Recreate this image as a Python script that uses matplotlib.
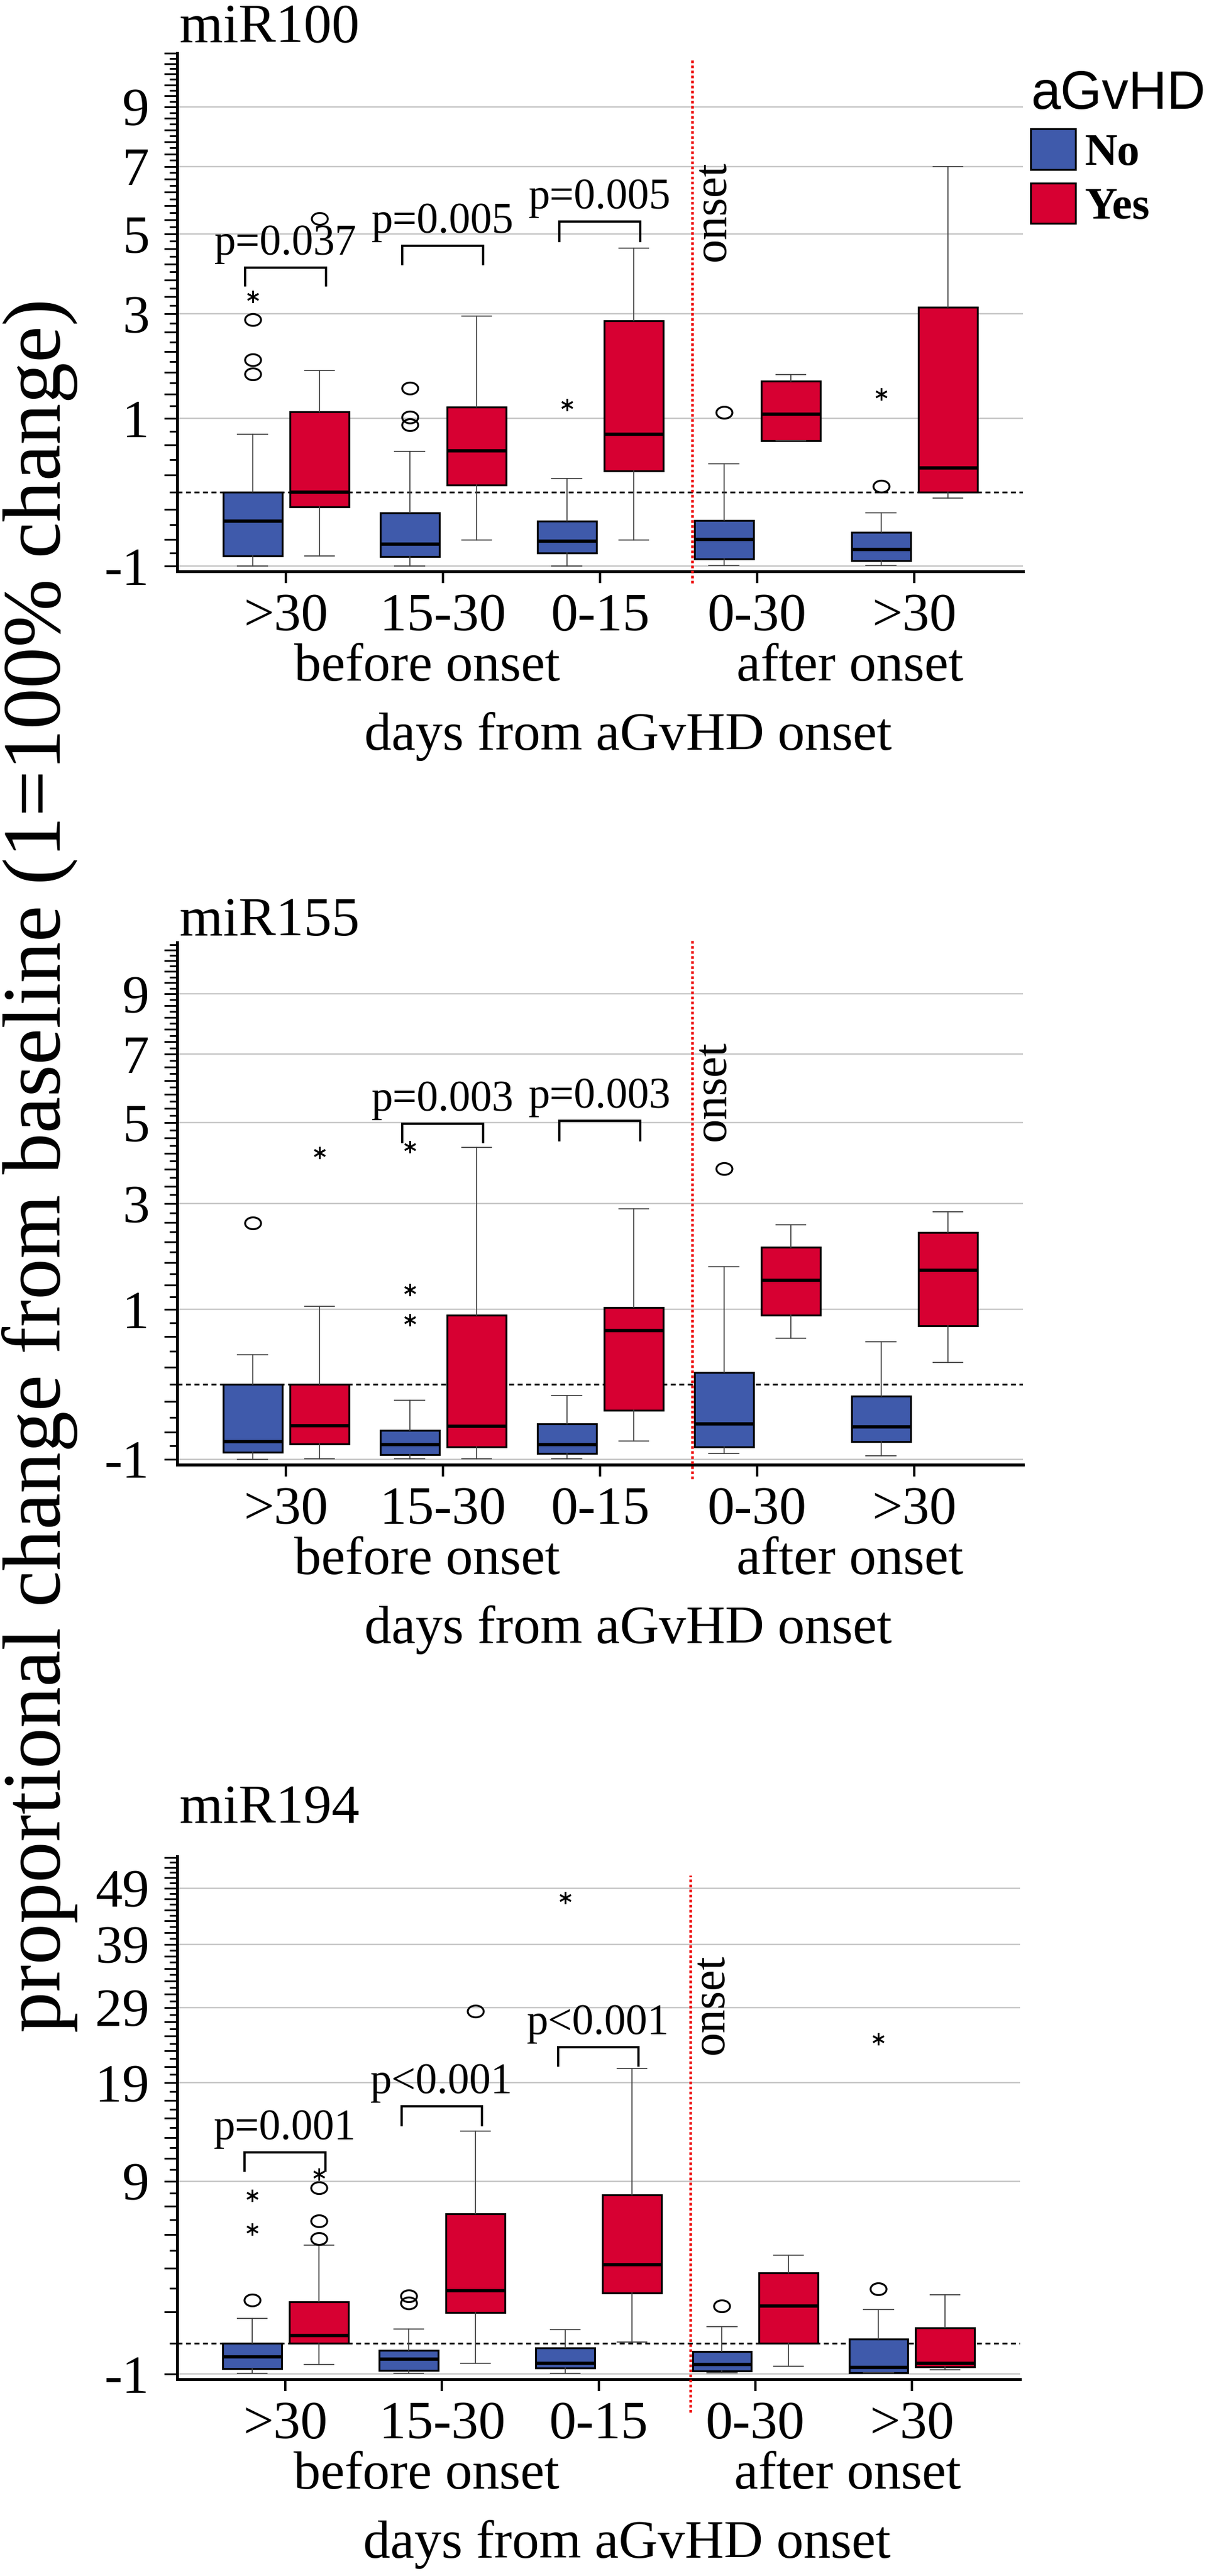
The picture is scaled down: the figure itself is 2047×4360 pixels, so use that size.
import numpy as np
import matplotlib
matplotlib.use('Agg')
import matplotlib.pyplot as plt
from matplotlib.patches import Patch
from matplotlib.path import Path
from matplotlib.markers import MarkerStyle
from matplotlib.ticker import FixedLocator, FuncFormatter, NullFormatter
import matplotlib.transforms as mtransforms

W, H, DPI = 2047, 4360, 100
PX = 72.0 / DPI
SERIF = 'Liberation Serif'
SANS = 'Liberation Sans'
BLUE = '#3F5AAB'
RED = '#D70032'

# ---------------- data ----------------
categories = ['>30', '15-30', '0-15', '0-30', '>30']
group_names = ['No', 'Yes']
panel_names = ['miR100', 'miR155', 'miR194']

# miR100
m100_blue_med = [-0.35, -0.665, -0.63, -0.60, -0.75]
m100_blue_q1 = [-0.84, -0.857, -0.796, -0.886, -0.92]
m100_blue_q3 = [0.0, -0.244, -0.355, -0.342, -0.50]
m100_blue_lo = [-1.0, -1.0, -1.0, -0.99, -0.99]
m100_blue_hi = [0.756, 0.514, 0.157, 0.344, -0.247]
m100_red_med = [0.0, 0.519, 0.752, 1.067, 0.29]
m100_red_q1 = [-0.174, 0.079, 0.25, 0.657, 0.0]
m100_red_q3 = [1.101, 1.184, 2.849, 1.637, 3.158]
m100_red_lo = [-0.845, -0.605, -0.605, 0.657, -0.066]
m100_red_hi = [1.837, 2.952, 4.61, 1.755, 7.0]
m100_blue_circles = [[1.77, 2.04, 2.87], [0.90, 1.02, 1.51], [], [1.10], [0.07]]
m100_red_circles = [[5.43], [], [], [], []]
m100_blue_stars = [[3.40], [], [1.22], [], [1.40]]
m100_red_stars = [[], [], [], [], []]
m100_brackets_cat = [0, 1, 2]
m100_brackets_top = [4.109, 4.684, 5.338]
m100_brackets_leg = [3.670, 4.198, 4.810]
m100_brackets_txt = ['p=0.037', 'p=0.005', 'p=0.005']

# miR155
m155_blue_med = [-0.738, -0.778, -0.778, -0.488, -0.528]
m155_blue_q1 = [-0.896, -0.930, -0.914, -0.810, -0.732]
m155_blue_q3 = [0.0, -0.572, -0.488, 0.132, -0.135]
m155_blue_lo = [-1.0, -0.99, -0.99, -0.914, -0.946]
m155_blue_hi = [0.354, -0.182, -0.130, 1.729, 0.528]
m155_red_med = [-0.508, -0.522, 0.685, 1.483, 1.660]
m155_red_q1 = [-0.770, -0.810, -0.307, 0.913, 0.754]
m155_red_q3 = [0.0, 0.913, 1.035, 2.098, 2.393]
m155_red_lo = [-0.99, -0.99, -0.724, 0.573, 0.254]
m155_red_hi = [1.052, 4.348, 2.895, 2.545, 2.825]
m155_blue_circles = [[2.59], [], [], [3.82], []]
m155_red_circles = [[], [], [], [], []]
m155_blue_stars = [[], [4.37, 1.32, 0.84], [], [], []]
m155_red_stars = [[4.21], [], [], [], []]
m155_brackets_cat = [1, 2]
m155_brackets_top = [4.971, 5.052]
m155_brackets_leg = [4.486, 4.536]
m155_brackets_txt = ['p=0.003', 'p=0.003']

# miR194
m194_blue_med = [-0.41, -0.48, -0.605, -0.652, -0.749]
m194_blue_q1 = [-0.806, -0.862, -0.768, -0.881, -0.94]
m194_blue_q3 = [0.0, -0.203, -0.142, -0.235, 0.103]
m194_blue_lo = [-0.97, -0.97, -0.97, -0.96, -0.95]
m194_blue_hi = [0.776, 0.403, 0.387, 0.488, 1.088]
m194_red_med = [0.21, 1.889, 3.205, 1.234, -0.605]
m194_red_q1 = [0.0, 0.988, 1.789, 0.0, -0.73]
m194_red_q3 = [1.404, 6.437, 7.88, 2.758, 0.454]
m194_red_lo = [-0.652, -0.605, 0.032, -0.711, -0.842]
m194_red_hi = [4.311, 13.69, 20.8, 3.71, 1.696]
m194_blue_circles = [[1.47], [1.36, 1.65], [], [1.23], [1.98]]
m194_red_circles = [[4.74, 5.91, 8.44], [28.5], [], [], []]
m194_blue_stars = [[5.37, 7.84], [], [47.2], [], [24.6]]
m194_red_stars = [[9.6], [], [], [], []]
m194_brackets_cat = [0, 1, 2]
m194_brackets_top = [11.57, 16.31, 23.53]
m194_brackets_leg = [9.89, 14.27, 21.13]
m194_brackets_txt = ['p=0.001', 'p<0.001', 'p<0.001']

ytick_labels_small = [-1, 1, 3, 5, 7, 9]
ytick_labels_big = [-1, 9, 19, 29, 39, 49]


def fwd(x):
    x = np.asarray(x, dtype=float)
    return np.sign(x) * (np.sqrt(np.abs(x) + 1.0) - 1.0)


def inv(y):
    y = np.asarray(y, dtype=float)
    return np.sign(y) * ((np.abs(y) + 1.0) ** 2 - 1.0)


def rect(left, top, right, bottom):
    return [left / W, 1 - bottom / H, (right - left) / W, (bottom - top) / H]


panels = [
    dict(name='miR100', rect=rect(300, 90, 1732, 967), ylim=(-1.086, 11.0), title_y=71,
         blue=(m100_blue_q1, m100_blue_med, m100_blue_q3, m100_blue_lo, m100_blue_hi),
         red=(m100_red_q1, m100_red_med, m100_red_q3, m100_red_lo, m100_red_hi),
         bc=m100_blue_circles, rc=m100_red_circles, bs=m100_blue_stars, rs=m100_red_stars,
         br=(m100_brackets_cat, m100_brackets_top, m100_brackets_leg, m100_brackets_txt),
         labels=ytick_labels_small, step=0.2, line=(-0.0228, 0.991), onset_y=0.695),
    dict(name='miR155', rect=rect(300, 1595, 1732, 2479), ylim=(-1.088, 10.89), title_y=1583,
         blue=(m155_blue_q1, m155_blue_med, m155_blue_q3, m155_blue_lo, m155_blue_hi),
         red=(m155_red_q1, m155_red_med, m155_red_q3, m155_red_lo, m155_red_hi),
         bc=m155_blue_circles, rc=m155_red_circles, bs=m155_blue_stars, rs=m155_red_stars,
         br=(m155_brackets_cat, m155_brackets_top, m155_brackets_leg, m155_brackets_txt),
         labels=ytick_labels_small, step=0.2, line=(-0.027, 1.0068), onset_y=0.7155),
    dict(name='miR194', rect=rect(300, 3142, 1727, 4027), ylim=(-1.20, 55.2), title_y=3085,
         blue=(m194_blue_q1, m194_blue_med, m194_blue_q3, m194_blue_lo, m194_blue_hi),
         red=(m194_red_q1, m194_red_med, m194_red_q3, m194_red_lo, m194_red_hi),
         bc=m194_blue_circles, rc=m194_red_circles, bs=m194_blue_stars, rs=m194_red_stars,
         br=(m194_brackets_cat, m194_brackets_top, m194_brackets_leg, m194_brackets_txt),
         labels=ytick_labels_big, step=1.0, line=(-0.063, 0.964), onset_y=0.7175),
]

fig = plt.figure(figsize=(W / DPI, H / DPI), dpi=DPI)
fig.patch.set_facecolor('white')

# ellipse marker for outliers
circ = Path.unit_circle()
ell = Path(circ.vertices * np.array([1.35, 1.0]), circ.codes)
ell_marker = MarkerStyle(ell)

OFF_B, OFF_R, BW = -0.212, 0.214, 0.376
xpos = np.arange(len(categories))

for P in panels:
    ax = fig.add_axes(P['rect'])
    ax.set_yscale('function', functions=(fwd, inv))
    ax.set_xlim(-0.692, 4.692)
    ax.set_ylim(*P['ylim'])

    # grid lines and reference line
    for v in P['labels']:
        ax.axhline(v, color='#c6c6c6', lw=2.4 * PX, zorder=0.5)
    ax.axhline(0, color='black', lw=3.0 * PX, ls=(0, (2.8, 2.0)), zorder=1)

    for gi, (key, ckey, off, col) in enumerate([('blue', 'bc', OFF_B, BLUE), ('red', 'rc', OFF_R, RED)]):
        q1, med, q3, lo, hi = P[key]
        stats = []
        for i in range(len(categories)):
            stats.append(dict(med=med[i], q1=q1[i], q3=q3[i], whislo=lo[i], whishi=hi[i],
                              fliers=np.array(P[ckey][i], dtype=float)))
        ax.bxp(stats, positions=xpos + off, widths=BW, patch_artist=True, manage_ticks=False,
               capwidths=0.19,
               boxprops=dict(facecolor=col, edgecolor='black', lw=3.2 * PX),
               medianprops=dict(color='black', lw=5.5 * PX, solid_capstyle='butt'),
               whiskerprops=dict(color='#444444', lw=1.8 * PX),
               capprops=dict(color='#444444', lw=1.8 * PX),
               flierprops=dict(marker=ell_marker, markersize=27 * PX, markerfacecolor='none',
                               markeredgecolor='black', markeredgewidth=3.2 * PX, linestyle='none'),
               zorder=3)
    for skey, off in [('bs', OFF_B), ('rs', OFF_R)]:
        for i, vals in enumerate(P[skey]):
            if vals:
                ax.plot([xpos[i] + off] * len(vals), vals, linestyle='none', marker=(6, 2, 0),
                        markersize=21 * PX, markeredgewidth=2.8 * PX, color='black', zorder=4)

    # significance brackets
    bcat, btop, bleg, btxt = P['br']
    for c, t, l, s in zip(bcat, btop, bleg, btxt):
        x0, x1 = c - 0.26, c + 0.255
        ax.plot([x0, x0, x1, x1], [l, t, t, l], color='black', lw=3.8 * PX,
                solid_joinstyle='miter', zorder=5, clip_on=False)
        ax.annotate(s, xy=((x0 + x1) / 2, t), xytext=(0, 22 * PX), textcoords='offset points',
                    ha='center', va='baseline', fontsize=52.5, family=SERIF, zorder=6)

    # onset line & label
    ax.axvline(2.585, ymin=P['line'][0], ymax=P['line'][1], color='#EE1111', lw=4.5 * PX,
               ls=(0, (1.0, 0.9)), clip_on=False, zorder=6)
    ax.text(2.72, P['onset_y'], 'onset', rotation=90, ha='center', va='center',
            transform=ax.get_xaxis_transform(), fontsize=58, family=SERIF, zorder=6)

    # spines
    for s in ['top', 'right']:
        ax.spines[s].set_visible(False)
    ax.spines['left'].set_linewidth(5 * PX)
    ax.spines['bottom'].set_linewidth(5 * PX)

    # y ticks
    lo_lim, hi_lim = P['ylim']
    step = P['step']
    allt = np.round(np.arange(-1.0, hi_lim + 1e-9, step), 4)
    if step < 1:
        k = np.round((allt - 1.0) / 0.4, 4)
        long_mask = np.isclose(k, np.round(k))
    else:
        long_mask = (np.round(allt).astype(int) % 2 != 0)
    labset = set(P['labels'])
    ax.yaxis.set_major_locator(FixedLocator(allt[long_mask]))
    ax.yaxis.set_minor_locator(FixedLocator(allt[~long_mask]))
    ax.yaxis.set_major_formatter(FuncFormatter(
        lambda v, pos, labset=labset: ('%d' % int(round(v))) if (abs(v - round(v)) < 1e-6 and int(round(v)) in labset) else ''))
    ax.yaxis.set_minor_formatter(NullFormatter())
    ax.tick_params(axis='y', which='major', length=22 * PX, width=3 * PX, pad=25 * PX,
                   labelsize=66, direction='out')
    ax.tick_params(axis='y', which='minor', length=13 * PX, width=3 * PX, direction='out')
    for lab in ax.get_yticklabels():
        lab.set_family(SERIF)

    # x ticks
    ax.set_xticks(xpos)
    ax.set_xticklabels(categories, family=SERIF, fontsize=66)
    ax.tick_params(axis='x', length=20 * PX, width=4 * PX, pad=16 * PX, direction='out')

    # group labels and x label
    base = ax.get_xaxis_transform()
    tr1 = mtransforms.offset_copy(base, fig=fig, y=-163 * PX, units='points')
    ax.text(0.90, 0, 'before onset', transform=tr1, ha='center', va='center', fontsize=66, family=SERIF)
    ax.text(3.59, 0, 'after onset', transform=tr1, ha='center', va='center', fontsize=66, family=SERIF)
    tr2 = mtransforms.offset_copy(base, fig=fig, y=-279 * PX, units='points')
    ax.text(2.18, 0, 'days from aGvHD onset', transform=tr2, ha='center', va='center',
            fontsize=66, family=SERIF)

    # title
    fig.text(304 / W, 1 - P['title_y'] / H, P['name'], ha='left', va='baseline',
             fontsize=68, family=SERIF)

# legend
handles = [Patch(facecolor=BLUE, edgecolor='black', lw=3.2 * PX),
           Patch(facecolor=RED, edgecolor='black', lw=3.2 * PX)]
fig.legend(handles, group_names, title='aGvHD', loc='upper left',
           bbox_to_anchor=(1745 / W, 1 - 118 / H), bbox_transform=fig.transFigure,
           frameon=False, prop=dict(family=SERIF, weight='bold', size=55),
           title_fontproperties=dict(family=SANS, size=65), handlelength=1.0,
           handleheight=1.0, handletextpad=0.2, labelspacing=0.2, borderpad=0,
           borderaxespad=0, alignment='left')

# y label
fig.text(68 / W, 1 - 1972 / H, 'proportional change from baseline (1=100% change)',
         rotation=90, ha='center', va='center', fontsize=100, family=SERIF)

fig.savefig('out.png', dpi=DPI)
